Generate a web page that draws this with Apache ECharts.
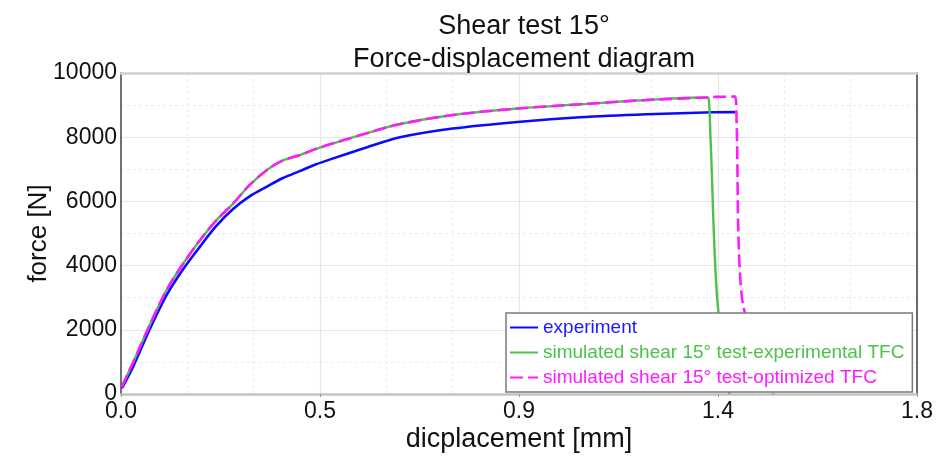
<!DOCTYPE html>
<html>
<head>
<meta charset="utf-8">
<script src="https://cdn.jsdelivr.net/npm/echarts@6/dist/echarts.min.js"></script>
<style>html,body{margin:0;padding:0;background:#fff}#c{width:947px;height:458px}</style>
</head>
<body>
<div id="c"></div>
<script>
// ---- data ----
const titleLines = ['Shear test 15°', 'Force-displacement diagram'];
const seriesNames = ['experiment', 'simulated shear 15° test-experimental TFC', 'simulated shear 15° test-optimized TFC'];

// experiment (blue)
const expDisp  = [0.002, 0.028, 0.065, 0.103, 0.14, 0.179, 0.215, 0.254, 0.29, 0.33, 0.365, 0.405, 0.44, 0.48, 0.555, 0.631, 0.75, 0.903, 1.038, 1.189, 1.34, 1.389];
const expForce = [180, 870, 2020, 3080, 3880, 4600, 5230, 5770, 6150, 6460, 6720, 6950, 7150, 7340, 7680, 7997, 8270, 8483, 8620, 8713, 8775, 8780];

// simulated, shared rising part (green and magenta coincide)
const simDisp  = [0.0015, 0.028, 0.065, 0.103, 0.14, 0.179, 0.215, 0.254, 0.29, 0.33, 0.365, 0.405, 0.44, 0.48, 0.555, 0.631, 0.75, 0.903, 1.038, 1.189, 1.321];
const simForce = [220, 1006, 2150, 3240, 4050, 4800, 5400, 5940, 6500, 6980, 7270, 7445, 7630, 7810, 8120, 8410, 8690, 8900, 9025, 9160, 9235];

// green tail (experimental TFC): failure drop
const greenTailDisp  = [1.328, 1.333, 1.348, 1.376];
const greenTailForce = [9230, 8000, 3000, 0];

// magenta tail (optimized TFC): continues, then drops
const pinkTailDisp  = [1.328, 1.345, 1.389, 1.392, 1.404, 1.475];
const pinkTailForce = [9240, 9255, 9265, 8500, 3020, 0];

function pairs(xs, ys) { return xs.map((x, i) => [x, ys[i]]); }

const expData   = pairs(expDisp, expForce);
const greenData = pairs(simDisp, simForce).concat(pairs(greenTailDisp, greenTailForce));
const pinkData  = pairs(simDisp, simForce).concat(pairs(pinkTailDisp, pinkTailForce));

const FONT = '"Liberation Sans", Arial, Helvetica, sans-serif';
const chart = echarts.init(document.getElementById('c'), null, {renderer: 'canvas'});

const hiddenSymbol = {color: 'rgba(0,0,0,0)', borderWidth: 0, opacity: 0};

chart.setOption({
  animation: false,
  backgroundColor: '#ffffff',
  textStyle: {fontFamily: FONT},
  title: {
    text: titleLines.join('\n'),
    left: 519,
    top: 5,
    textAlign: 'center',
    textStyle: {fontFamily: FONT, fontSize: 27, fontWeight: 'normal', color: '#111', lineHeight: 33}
  },
  grid: {left: 121, right: 30, top: 73, bottom: 64, containLabel: false},
  legend: {
    orient: 'vertical',
    left: 506,
    top: 313,
    padding: [5, 8, 5, 3],
    itemWidth: 28,
    itemHeight: 20,
    itemGap: 6,
    backgroundColor: '#ffffff',
    borderColor: '#7a7a7a',
    borderWidth: 1.5,
    borderRadius: 0,
    z: 20,
    itemStyle: hiddenSymbol,
    textStyle: {fontFamily: FONT, fontSize: 19},
    data: [
      {name: seriesNames[0], itemStyle: hiddenSymbol, textStyle: {color: '#1a1aff'}},
      {name: seriesNames[1], itemStyle: hiddenSymbol, textStyle: {color: '#4cc24c'}},
      {name: seriesNames[2], itemStyle: hiddenSymbol, textStyle: {color: '#ff1aff'}}
    ]
  },
  xAxis: [{
    type: 'value',
    min: 0,
    max: 1.8,
    interval: 0.45,
    name: 'dicplacement [mm]',
    nameLocation: 'middle',
    nameGap: 32,
    nameMoveOverlap: false,
    nameTextStyle: {fontFamily: FONT, fontSize: 27, color: '#111', verticalAlign: 'top'},
    axisLine: {show: true, onZero: false, lineStyle: {color: '#c4c4c4', width: 2.5}},
    axisTick: {show: true, length: 3, lineStyle: {color: '#999'}},
    axisLabel: {
      fontFamily: FONT, fontSize: 23, color: '#111', margin: 6,
      formatter: v => (Math.round(v * 10) / 10).toFixed(1)
    },
    splitLine: {show: true, lineStyle: {color: '#e6e6e6', width: 1.2}},
    minorTick: {show: false, splitNumber: 3},
    minorSplitLine: {show: true, lineStyle: {color: '#ececec', width: 1, type: [3, 3]}}
  }, {
    type: 'value',
    position: 'top',
    min: 0, max: 1.8, interval: 0.45,
    axisLine: {show: true, onZero: false, lineStyle: {color: '#cfcfcf', width: 2.5}},
    axisTick: {show: false},
    axisLabel: {show: false},
    splitLine: {show: false}
  }],
  yAxis: [{
    type: 'value',
    min: 0,
    max: 10000,
    interval: 2000,
    name: 'force [N]',
    nameLocation: 'middle',
    nameGap: 69,
    nameMoveOverlap: false,
    nameTextStyle: {fontFamily: FONT, fontSize: 26, color: '#111'},
    axisLine: {show: true, onZero: false, lineStyle: {color: '#707070', width: 2}},
    axisTick: {show: false},
    axisLabel: {fontFamily: FONT, fontSize: 23, color: '#111', margin: 4, formatter: v => String(v)},
    splitLine: {show: true, lineStyle: {color: '#e6e6e6', width: 1.2}},
    minorTick: {show: false, splitNumber: 2},
    minorSplitLine: {show: true, lineStyle: {color: '#ececec', width: 1, type: [3, 3]}}
  }, {
    type: 'value',
    position: 'right',
    min: 0, max: 10000, interval: 2000,
    axisLine: {show: true, onZero: false, lineStyle: {color: '#6a6a6a', width: 2}},
    axisTick: {show: false},
    axisLabel: {show: false},
    splitLine: {show: false}
  }],
  series: [
    {
      name: seriesNames[0], type: 'line', data: expData,
      symbol: 'none', smooth: 0.3,
      lineStyle: {color: '#0a0aff', width: 2.6},
      itemStyle: {color: '#0a0aff'}, z: 3
    },
    {
      name: seriesNames[1], type: 'line', data: greenData,
      symbol: 'none', smooth: 0.3,
      lineStyle: {color: '#4cc24c', width: 2.4},
      itemStyle: {color: '#4cc24c'}, z: 4
    },
    {
      name: seriesNames[2], type: 'line', data: pinkData,
      symbol: 'none', smooth: 0.3,
      lineStyle: {color: '#ff1aff', width: 2.6, type: [13, 5]},
      itemStyle: {color: '#ff1aff'}, z: 5
    }
  ]
});
</script>
</body>
</html>
